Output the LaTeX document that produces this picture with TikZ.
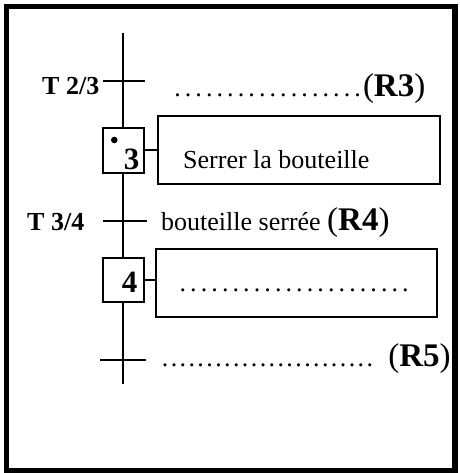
\documentclass[tikz,border=0pt]{standalone}
\usepackage{fontspec}
\setmainfont{Liberation Serif}
\newcommand\dotrow[2]{\foreach \k in {1,...,#1}{\makebox[#2]{.}}}
\begin{document}
\begin{tikzpicture}[x=1pt,y=-1pt,
  ln/.style={line width=2pt},
  stepbox/.style={draw,line width=2pt,minimum width=41pt,minimum height=45pt,inner sep=0pt},
  actbox/.style={draw,line width=2pt,inner sep=0pt},
  txt/.style={inner sep=0pt,anchor=base west,font=\fontsize{26}{30}\selectfont},
  tlab/.style={inner sep=0pt,anchor=base west,font=\fontsize{26}{30}\selectfont\bfseries},
  num/.style={inner sep=0pt,anchor=base,font=\fontsize{31}{34}\selectfont\bfseries}]
\useasboundingbox (0,0) rectangle (459,473);
\draw[line width=5.5pt] (6.3,6.5) rectangle (455,470.7);

% steps
\node[stepbox] (s3) at (123,150.5) {};
\node[stepbox,minimum height=44pt] (s4) at (123,279.5) {};
\node[num] (n3) at (131.5,169) {3};
\node[num] (n4) at (129.5,292) {4};
\fill (114.3,140) circle (3.3pt);

% actions
\node[actbox,minimum width=282pt,minimum height=68pt] (a3) at (299,150) {};
\node[actbox,minimum width=281pt,minimum height=68pt] (a4) at (296.5,283) {};
\draw[ln] (s3.east) -- (a3.west |- s3.east);
\draw[ln] (s4.east) -- (a4.west |- s4.east);

% vertical links
\coordinate (top) at (123,33);
\coordinate (bot) at (123,384);
\draw[ln] (top) -- (s3.north);
\draw[ln] (s3.south) -- (s4.north);
\draw[ln] (s4.south) -- (bot);

% transitions
\coordinate (t23) at (123,81);
\coordinate (t34) at (123,220.5);
\coordinate (t45) at (123,360);
\draw[ln] ([xshift=-20pt]t23) -- ([xshift=22pt]t23);
\draw[ln] ([xshift=-20pt]t34) -- ([xshift=24pt]t34);
\draw[ln] ([xshift=-23pt]t45) -- ([xshift=23pt]t45);

% labels
\node[tlab] (l23) at (42,95) {T 2/3};
\node[tlab] (l34) at (27,230) {T 3/4};
\node[txt] (r3) at (172,96.5) {\dotrow{18}{10.6pt}{\fontsize{33}{36}\selectfont(\textbf{R3})}};
\node[txt] (c4) at (161,230) {bouteille serrée {\fontsize{33}{36}\selectfont(\textbf{R4})}};
\node[txt] (r5) at (160.5,366.5) {\dotrow{24}{8.9pt}\hspace{14pt}{\fontsize{33}{36}\selectfont(\textbf{R5})}};
\node[txt] (x3) at (183,168) {Serrer la bouteille};
\node[txt] (x4) at (177.4,291.5) {\dotrow{22}{10.6pt}};
\end{tikzpicture}
\end{document}
